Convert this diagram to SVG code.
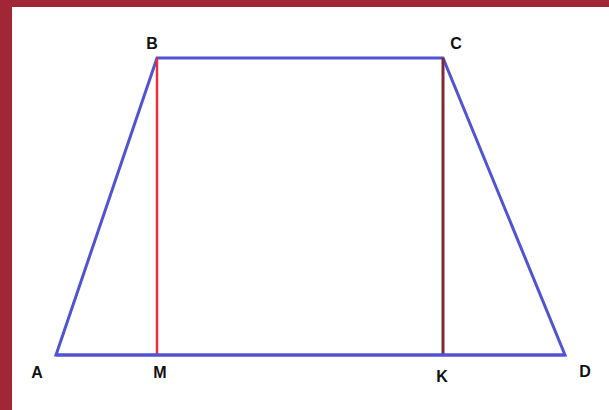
<svg xmlns="http://www.w3.org/2000/svg" width="609" height="410" viewBox="0 0 609 410">
<style>
.lbl{font-family:"Liberation Sans",Arial,sans-serif;font-weight:bold;font-size:16px;fill:#111;text-anchor:middle}
.side{stroke:#5252d4;stroke-width:3;fill:none;stroke-linejoin:miter}
</style>
<rect x="0" y="0" width="609" height="410" fill="#ffffff"/>
<rect x="0" y="0" width="609" height="7" fill="#a12636"/>
<rect x="0" y="0" width="12" height="410" fill="#a12636"/>
<g id="connectors">
<polygon class="side" points="56,355 157,58 443,58 565,355"/>
<line x1="157" y1="58" x2="157" y2="355" stroke="#e8303c" stroke-width="2.5"/>
<line x1="443" y1="58" x2="443" y2="355" stroke="#7c2a36" stroke-width="3"/>
<line x1="56" y1="355" x2="565" y2="355" class="side"/>
</g>
<g id="node-B"><text class="lbl" x="152" y="49">B</text></g>
<g id="node-C"><text class="lbl" x="456" y="49">C</text></g>
<g id="node-A"><text class="lbl" x="37" y="378">A</text></g>
<g id="node-M"><text class="lbl" x="160" y="378">M</text></g>
<g id="node-K"><text class="lbl" x="442" y="382">K</text></g>
<g id="node-D"><text class="lbl" x="585" y="377">D</text></g>
</svg>
